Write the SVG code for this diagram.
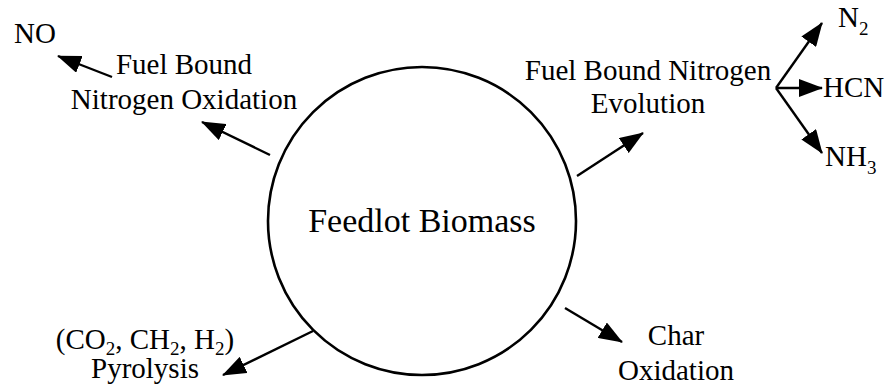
<svg xmlns="http://www.w3.org/2000/svg" width="885" height="388" viewBox="0 0 885 388">
<style>
text{font-family:"Liberation Serif","Times New Roman",serif;fill:#000;font-size:29px}
.c{text-anchor:middle}
.s{font-size:19px}
.ln{stroke:#000;stroke-width:2.4;fill:none;marker-end:url(#ah)}
</style>
<defs>
<marker id="ah" markerUnits="userSpaceOnUse" viewBox="0 0 24 18" refX="23" refY="9" markerWidth="24" markerHeight="18" orient="auto">
<path d="M0,0 L24,9 L0,18 Z" fill="#000"/>
</marker>
</defs>
<rect width="885" height="388" fill="#fff"/>
<g id="biomass">
<circle cx="422" cy="221" r="154" fill="#fff" stroke="#000" stroke-width="2.6"/>
<text class="c" x="422" y="232" style="font-size:34px">Feedlot Biomass</text>
</g>
<g id="no"><text x="14" y="43">NO</text></g>
<g id="fbno">
<text class="c" x="184" y="74">Fuel Bound</text>
<text class="c" x="184" y="109">Nitrogen Oxidation</text>
</g>
<g id="fbne">
<text class="c" x="648" y="80">Fuel Bound Nitrogen</text>
<text class="c" x="648" y="113">Evolution</text>
</g>
<g id="n2"><text x="838" y="27">N<tspan class="s" dy="8">2</tspan></text></g>
<g id="hcn"><text x="823" y="97">HCN</text></g>
<g id="nh3"><text x="825" y="166">NH<tspan class="s" dy="8">3</tspan></text></g>
<g id="pyro">
<text class="c" x="145" y="349">(CO<tspan class="s" dy="6">2</tspan><tspan dy="-6">, CH</tspan><tspan class="s" dy="6">2</tspan><tspan dy="-6">, H</tspan><tspan class="s" dy="6">2</tspan><tspan dy="-6">)</tspan></text>
<text class="c" x="145" y="378">Pyrolysis</text>
</g>
<g id="char">
<text class="c" x="676" y="345">Char</text>
<text class="c" x="676" y="380">Oxidation</text>
</g>
<g id="connectors">
<line class="ln" x1="112" y1="77" x2="58" y2="56"/>
<line class="ln" x1="270" y1="155" x2="202" y2="122"/>
<line class="ln" x1="577" y1="176" x2="643" y2="133"/>
<line class="ln" x1="776" y1="88" x2="822" y2="23"/>
<line class="ln" x1="776" y1="88" x2="822" y2="88"/>
<line class="ln" x1="776" y1="88" x2="822" y2="153"/>
<line class="ln" x1="313" y1="331" x2="223" y2="375"/>
<line class="ln" x1="565" y1="308" x2="622" y2="342"/>
</g>
</svg>
